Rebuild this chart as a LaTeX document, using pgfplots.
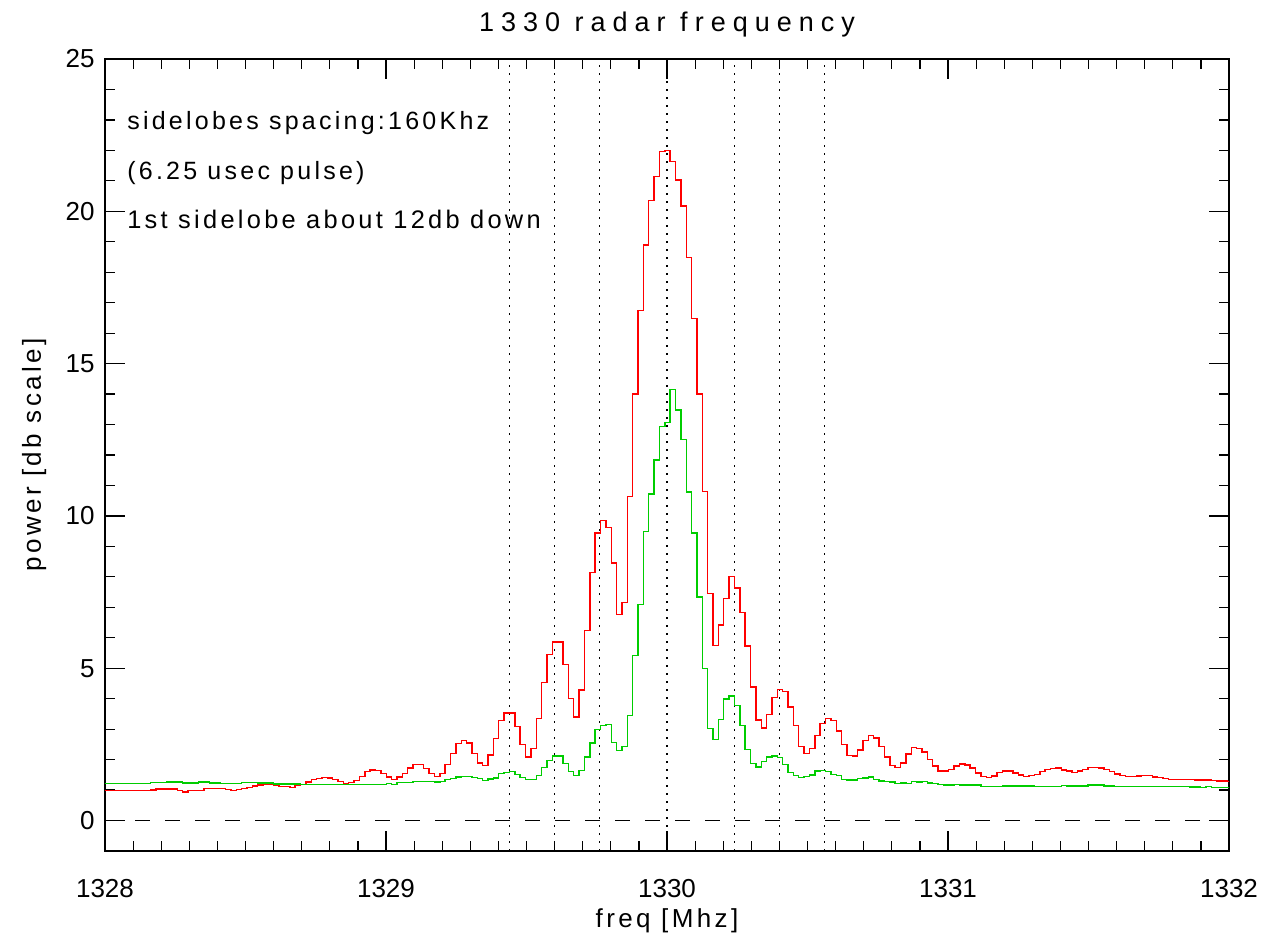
\documentclass[border=0pt]{standalone}
\usepackage{fontspec}
\setmainfont{Liberation Sans}[LetterSpace=13]
\newfontfamily\titlefont{Liberation Sans}[LetterSpace=26]
\newfontfamily\tickfont{Liberation Sans}
\usepackage{pgfplots}
\usepackage{pgfplotstable}
\pgfplotsset{compat=1.18}
\definecolor{idlred}{RGB}{255,0,0}
\definecolor{idlgreen}{RGB}{0,205,0}

\pgfplotstableread{
x r g
1327.9905 0.99 1.21
1328.0095 0.99 1.21
1328.0286 0.98 1.21
1328.0476 0.98 1.21
1328.0667 0.99 1.21
1328.0858 0.99 1.21
1328.1048 0.98 1.21
1328.1239 0.98 1.21
1328.1430 0.99 1.21
1328.1620 1.00 1.25
1328.1811 1.03 1.25
1328.2002 1.03 1.25
1328.2192 1.03 1.26
1328.2383 1.03 1.26
1328.2574 0.98 1.26
1328.2764 0.94 1.23
1328.2955 0.98 1.23
1328.3145 0.98 1.23
1328.3336 0.98 1.27
1328.3527 1.05 1.27
1328.3717 1.05 1.23
1328.3908 1.05 1.23
1328.4099 1.05 1.21
1328.4289 1.01 1.21
1328.4480 0.98 1.21
1328.4671 1.01 1.21
1328.4861 1.05 1.25
1328.5052 1.09 1.25
1328.5242 1.14 1.25
1328.5433 1.17 1.23
1328.5624 1.18 1.23
1328.5814 1.18 1.23
1328.6005 1.16 1.20
1328.6196 1.12 1.20
1328.6386 1.12 1.20
1328.6577 1.09 1.20
1328.6768 1.15 1.20
1328.6958 1.18 1.19
1328.7149 1.26 1.19
1328.7340 1.34 1.19
1328.7530 1.38 1.19
1328.7721 1.41 1.19
1328.7911 1.40 1.19
1328.8102 1.35 1.19
1328.8293 1.28 1.19
1328.8483 1.21 1.18
1328.8674 1.25 1.18
1328.8865 1.31 1.18
1328.9055 1.45 1.18
1328.9246 1.61 1.19
1328.9437 1.66 1.19
1328.9627 1.64 1.19
1328.9818 1.54 1.19
1329.0008 1.43 1.22
1329.0199 1.34 1.19
1329.0390 1.43 1.24
1329.0580 1.54 1.24
1329.0771 1.73 1.24
1329.0962 1.83 1.28
1329.1152 1.83 1.28
1329.1343 1.71 1.28
1329.1534 1.54 1.28
1329.1724 1.45 1.27
1329.1915 1.54 1.29
1329.2106 1.83 1.35
1329.2296 2.20 1.38
1329.2487 2.53 1.43
1329.2677 2.63 1.45
1329.2868 2.55 1.45
1329.3059 2.20 1.42
1329.3249 1.89 1.37
1329.3440 1.81 1.32
1329.3631 2.15 1.36
1329.3821 2.69 1.40
1329.4012 3.28 1.54
1329.4203 3.53 1.57
1329.4393 3.53 1.60
1329.4584 3.09 1.51
1329.4774 2.49 1.42
1329.4965 2.08 1.35
1329.5156 2.37 1.35
1329.5346 3.34 1.48
1329.5537 4.53 1.75
1329.5728 5.45 1.98
1329.5918 5.86 2.12
1329.6109 5.86 2.12
1329.6300 5.12 1.88
1329.6490 4.01 1.60
1329.6681 3.40 1.48
1329.6872 4.28 1.65
1329.7062 6.23 2.09
1329.7253 8.14 2.55
1329.7443 9.44 2.99
1329.7634 9.84 3.12
1329.7825 9.61 3.15
1329.8015 8.45 2.56
1329.8206 6.76 2.30
1329.8397 7.15 2.44
1329.8587 10.64 3.45
1329.8778 14.00 5.42
1329.8969 16.75 7.09
1329.9159 18.89 9.49
1329.9350 20.35 10.72
1329.9540 21.14 11.84
1329.9731 21.96 12.94
1329.9922 22.00 13.07
1330.0112 21.64 14.14
1330.0303 21.03 13.48
1330.0494 20.17 12.50
1330.0684 18.49 10.78
1330.0875 16.48 9.44
1330.1066 14.00 7.34
1330.1256 10.81 5.00
1330.1447 7.46 3.03
1330.1638 5.75 2.66
1330.1828 6.42 3.31
1330.2019 7.29 3.99
1330.2209 8.02 4.09
1330.2400 7.63 3.77
1330.2591 6.82 3.12
1330.2781 5.73 2.33
1330.2972 4.39 1.87
1330.3163 3.30 1.76
1330.3353 3.04 1.94
1330.3544 3.49 2.09
1330.3735 4.03 2.12
1330.3925 4.30 2.07
1330.4116 4.23 1.84
1330.4306 3.73 1.58
1330.4497 3.12 1.48
1330.4688 2.44 1.42
1330.4878 2.20 1.45
1330.5069 2.37 1.50
1330.5260 2.80 1.63
1330.5450 3.19 1.65
1330.5641 3.35 1.60
1330.5832 3.29 1.52
1330.6022 2.94 1.48
1330.6213 2.49 1.35
1330.6404 2.13 1.33
1330.6594 2.12 1.33
1330.6785 2.32 1.37
1330.6975 2.63 1.39
1330.7166 2.79 1.43
1330.7357 2.71 1.35
1330.7547 2.44 1.30
1330.7738 2.09 1.28
1330.7929 1.80 1.26
1330.8119 1.75 1.22
1330.8310 1.89 1.23
1330.8501 2.19 1.21
1330.8691 2.39 1.28
1330.8882 2.36 1.27
1330.9072 2.25 1.29
1330.9263 2.00 1.23
1330.9454 1.79 1.21
1330.9644 1.62 1.18
1330.9835 1.62 1.16
1331.0026 1.67 1.16
1331.0216 1.79 1.18
1331.0407 1.85 1.17
1331.0598 1.82 1.17
1331.0788 1.73 1.17
1331.0979 1.56 1.17
1331.1170 1.45 1.12
1331.1360 1.42 1.12
1331.1551 1.46 1.12
1331.1741 1.57 1.12
1331.1932 1.62 1.13
1331.2123 1.62 1.13
1331.2313 1.56 1.13
1331.2504 1.50 1.13
1331.2695 1.45 1.13
1331.2885 1.48 1.13
1331.3076 1.52 1.12
1331.3267 1.60 1.12
1331.3457 1.68 1.12
1331.3648 1.71 1.12
1331.3838 1.73 1.12
1331.4029 1.66 1.15
1331.4220 1.62 1.14
1331.4410 1.58 1.14
1331.4601 1.62 1.13
1331.4792 1.67 1.13
1331.4982 1.75 1.16
1331.5173 1.75 1.16
1331.5364 1.73 1.16
1331.5554 1.67 1.14
1331.5745 1.61 1.14
1331.5935 1.53 1.12
1331.6126 1.48 1.12
1331.6317 1.45 1.11
1331.6507 1.45 1.11
1331.6698 1.46 1.11
1331.6889 1.47 1.11
1331.7079 1.47 1.11
1331.7270 1.43 1.11
1331.7461 1.42 1.11
1331.7651 1.37 1.11
1331.7842 1.35 1.11
1331.8032 1.35 1.11
1331.8223 1.35 1.11
1331.8414 1.35 1.11
1331.8604 1.35 1.10
1331.8795 1.33 1.10
1331.8986 1.33 1.08
1331.9176 1.33 1.11
1331.9367 1.31 1.09
1331.9558 1.30 1.09
1331.9748 1.30 1.09
1331.9939 1.28 1.09
1332.0130 1.28 1.09
}\spec

\begin{document}
\begin{tikzpicture}
\begin{axis}[
  scale only axis, width=562pt, height=396pt,
  xmin=1328, xmax=1332, ymin=-1, ymax=25,
  xtick={1328,1329,1330,1331,1332},
  ytick={0,5,10,15,20,25},
  minor x tick num=9, minor y tick num=4,
  major tick length=10pt, minor tick length=5pt,
  tick align=inside,
  tick style={black, line width=0.6pt},
  axis line style={black, line width=0.8pt},
  /pgf/number format/1000 sep={},
  /pgf/number format/assume math mode=true,
  ticklabel style={font=\tickfont\fontsize{13}{15}\selectfont},
  xticklabel style={anchor=base, yshift=-23.5pt},
  yticklabel style={anchor=east, inner sep=0pt, xshift=-5pt},
  every axis title shift=0pt,
  title={1330 radar frequency},
  title style={at={(axis description cs:0.5,1.0341)}, anchor=base, inner sep=0pt, font=\titlefont\fontsize{13.5}{16}\selectfont},
  xlabel={freq [Mhz]},
  xlabel style={at={(axis description cs:0.5,-0.0960)}, anchor=base, inner sep=0pt, font=\fontsize{13}{15}\selectfont},
  ylabel={power [db scale]},
  ylabel style={at={(axis description cs:-0.0570,0.5)}, anchor=base, inner sep=0pt, font=\fontsize{13}{15}\selectfont},
]
\addplot[black, line width=0.6pt, dash pattern=on 7.5pt off 7.5pt] coordinates {(1328,0) (1332,0)};
\addplot[black, line width=0.7pt, dash pattern=on 1pt off 3pt] coordinates {(1329.44,-1) (1329.44,25)};
\addplot[black, line width=0.7pt, dash pattern=on 1pt off 3pt] coordinates {(1329.60,-1) (1329.60,25)};
\addplot[black, line width=0.7pt, dash pattern=on 1pt off 3pt] coordinates {(1329.76,-1) (1329.76,25)};
\addplot[black, line width=0.7pt, dash pattern=on 1pt off 3pt] coordinates {(1330.00,-1) (1330.00,25)};
\addplot[black, line width=0.7pt, dash pattern=on 1pt off 3pt] coordinates {(1330.24,-1) (1330.24,25)};
\addplot[black, line width=0.7pt, dash pattern=on 1pt off 3pt] coordinates {(1330.40,-1) (1330.40,25)};
\addplot[black, line width=0.7pt, dash pattern=on 1pt off 3pt] coordinates {(1330.56,-1) (1330.56,25)};
\addplot[idlred, line width=0.7pt, const plot mark left] table[x=x, y=r] {\spec};
\addplot[idlgreen, line width=0.7pt, const plot mark left] table[x=x, y=g] {\spec};
\node[anchor=base west, inner sep=0pt, font=\fontsize{12.5}{14}\selectfont] at (axis cs:1328.078,22.70) {sidelobes spacing:160Khz};
\node[anchor=base west, inner sep=0pt, font=\fontsize{12.5}{14}\selectfont] at (axis cs:1328.078,21.06) {(6.25 usec pulse)};
\node[anchor=base west, inner sep=0pt, font=\fontsize{12.7}{14}\selectfont] at (axis cs:1328.078,19.42) {1st sidelobe about 12db down};
\end{axis}
\pgfresetboundingbox
\path ([shift={(-52.5pt,-44pt)}]current axis.south west) rectangle ([shift={(25pt,29.5pt)}]current axis.north east);
\end{tikzpicture}
\end{document}
